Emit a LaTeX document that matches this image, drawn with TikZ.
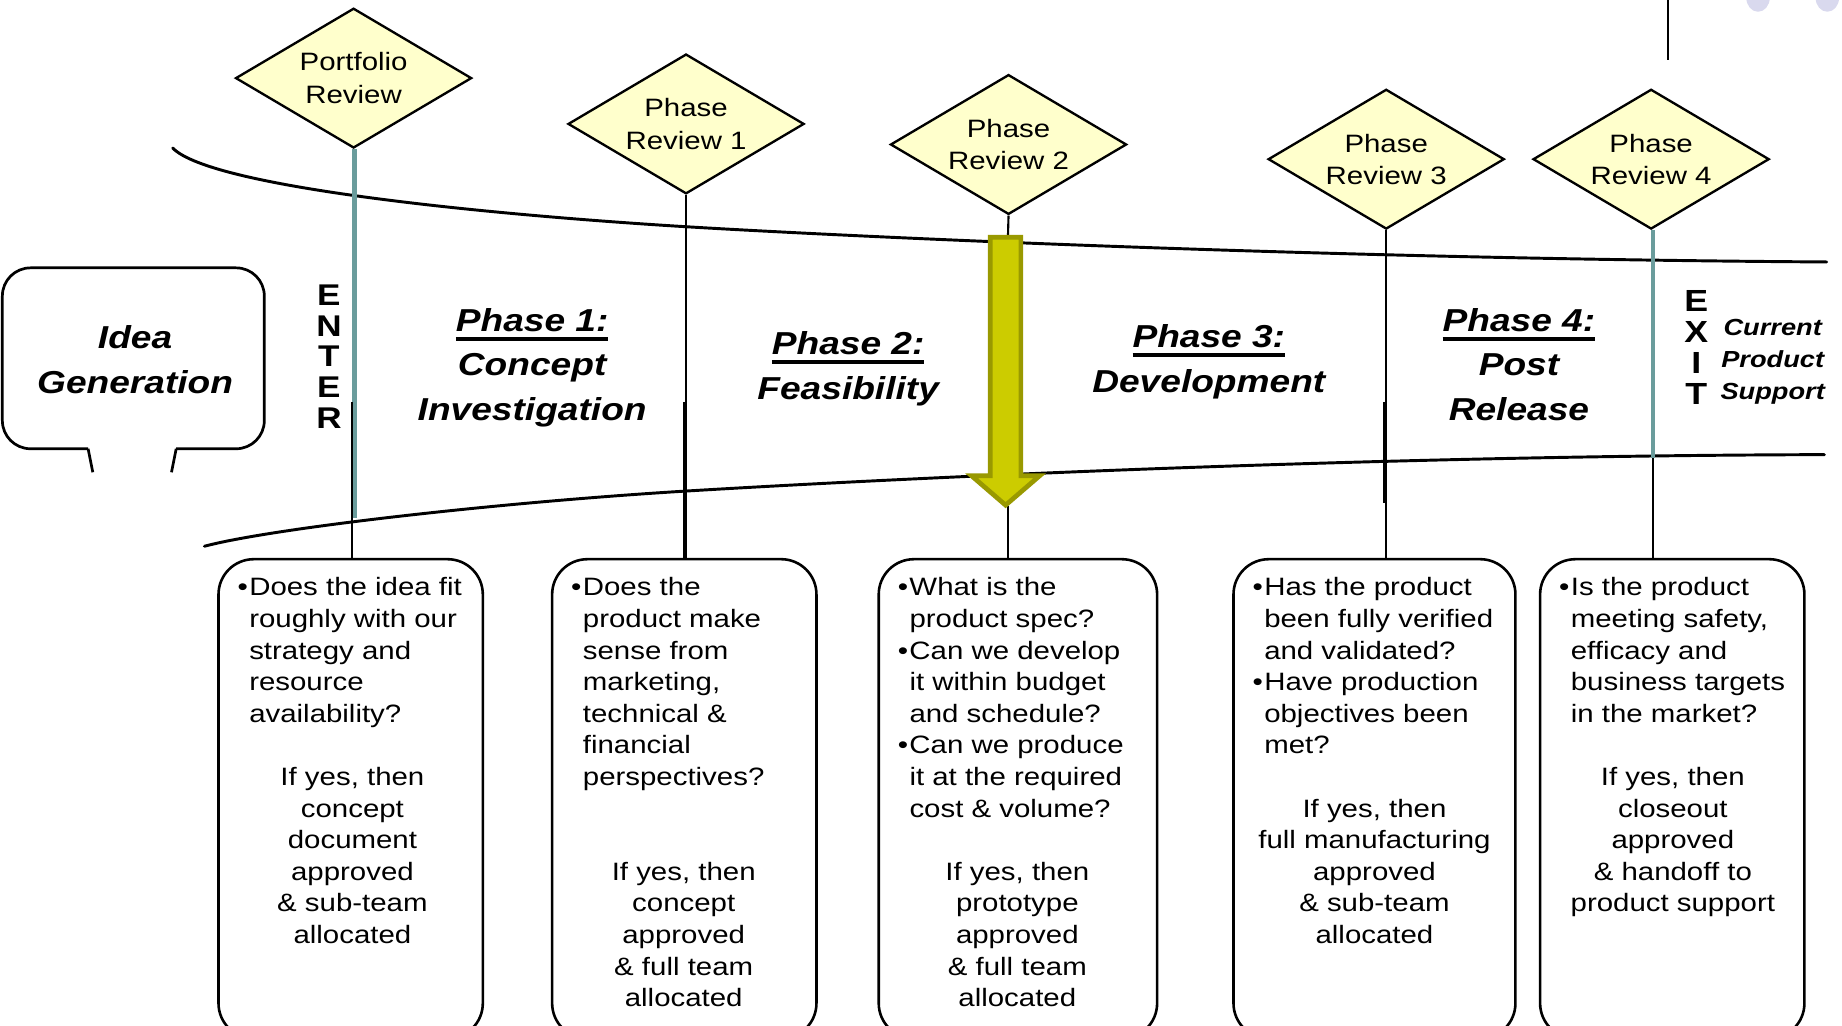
\documentclass[tikz,border=0pt]{standalone}
\usepackage{fontspec}
\setmainfont{Liberation Sans}[FakeStretch=1.17]
\usetikzlibrary{shapes.geometric}
\definecolor{dfill}{HTML}{FFFFCC}
\definecolor{tealc}{HTML}{6A9C9C}
\definecolor{arrfill}{HTML}{CCCC00}
\definecolor{arrdraw}{HTML}{999900}
\definecolor{lav}{HTML}{D9D9EE}
\newcommand\bul{\makebox[10pt][l]{•}}
\newcommand\ind{\hspace*{10pt}}
\newcommand\fst{\rule{0pt}{20pt}}
\newcommand\tst{\rule{0pt}{30pt}}
\newcommand\ulin[1]{\setbox0\hbox{#1}\rlap{\rule[-8pt]{\wd0}{3.3pt}}\box0}
\begin{document}
\begin{tikzpicture}[x=1pt,y=-1pt,
  diam/.style={diamond, aspect=1.68, draw=black, line width=2pt, fill=dfill, minimum width=201pt, minimum height=119pt, inner sep=0pt, align=center, font=\fontsize{21.4}{27.5}\selectfont},
  qbox/.style={draw=black, line width=2.2pt, rounded corners=30pt, minimum height=408pt},
  btxt/.style={anchor=north west, inner sep=0pt, align=left, font=\fontsize{21.4}{26.9}\selectfont},
  ytxt/.style={anchor=north, inner sep=0pt, align=center, font=\fontsize{21.4}{26.9}\selectfont},
  ttl/.style={anchor=north, inner sep=0pt, align=center, font=\fontsize{27}{38}\selectfont\bfseries\itshape},
  curve/.style={draw=black, line width=2.5pt, line cap=round},
  stem/.style={draw=black, line width=1.8pt},
  tealline/.style={draw=tealc, line width=4pt},
  arr/.style={draw=arrdraw, fill=arrfill, line width=4pt},
  bub/.style={draw=black, line width=2.3pt}]
\useasboundingbox (0,0) rectangle (1568,873);
\fill[white] (0,0) rectangle (1568,873);
% top decorations
\fill[lav] (1496.5,-2) ellipse [x radius=10pt, y radius=12pt];
\fill[lav] (1555.5,-2) ellipse [x radius=10pt, y radius=12pt];
\draw[line width=2pt] (1420,0) -- (1420,51);
% curves
\draw[curve] (147,126) .. controls (180,160) and (420,183) .. (584,193)
  .. controls (700,200) and (1100,220) .. (1555,223);
\draw[curve] (174,465) .. controls (230,450) and (420,428) .. (584,418)
  .. controls (750,408) and (1150,388) .. (1553,387);
% idea bubble
\draw[bub, rounded corners=24pt] (75,382) -- (2,382) -- (2,228) -- (225,228) -- (225,382) -- (150,382);
\draw[bub] (75,382) -- (79,402);
\draw[bub] (150,382) -- (146,402);
\node[ttl] (idea) at (115,266.7) {\tst Idea\\Generation};
% enter / exit
\node[anchor=north, inner sep=0pt, align=center, font=\fontsize{25.5}{26.2}\selectfont\bfseries] (enter) at (280,234.7) {\rule{0pt}{25pt}E\\N\\T\\E\\R};
\node[anchor=north, inner sep=0pt, align=center, font=\fontsize{26}{26.2}\selectfont\bfseries] (exit) at (1444,240.3) {\rule{0pt}{25pt}E\\X\\I\\T};
\node[anchor=north, inner sep=0pt, align=center, font=\fontsize{19.8}{27.3}\selectfont\bfseries\itshape] (cps) at (1509,265) {\fst Current\\Product\\Support};
% phase titles
\node[ttl] (p1) at (453,251.7) {\tst\ulin{Phase 1:}\\Concept\\Investigation};
\node[ttl] (p2) at (722,271.7) {\tst\ulin{Phase 2:}\\Feasibility};
\node[ttl] (p3) at (1029,265.7) {\tst\ulin{Phase 3:}\\Development};
\node[ttl] (p4) at (1293,251.7) {\tst\ulin{Phase 4:}\\Post\\Release};
% diamonds
\node[diam] (pr0) at (301,66.5) {Portfolio\\Review};
\node[diam] (pr1) at (584,105.5) {Phase\\Review 1};
\node[diam] (pr2) at (858.5,123) {Phase\\Review 2};
\node[diam] (pr3) at (1180,135.5) {Phase\\Review 3};
\node[diam] (pr4) at (1405.5,135.5) {Phase\\Review 4};
% boxes
\node[qbox, minimum width=225pt] (b1) at (298.5,680) {};
\node[qbox, minimum width=225pt] (b2) at (582.5,680) {};
\node[qbox, minimum width=237pt] (b3) at (866.5,680) {};
\node[qbox, minimum width=240pt] (b4) at (1170,680) {};
\node[qbox, minimum width=225pt] (b5) at (1423.5,680) {};
% box texts
\node[btxt] (q1) at (202,487) {\fst\bul Does the idea fit\\\ind roughly with our\\\ind strategy and\\\ind resource\\\ind availability?};
\node[ytxt] (y1) at (300,648.4) {\fst If yes, then\\concept\\document\\approved\\\& sub-team\\allocated};
\node[btxt] (q2) at (486,487) {\fst\bul Does the\\\ind product make\\\ind sense from\\\ind marketing,\\\ind technical \&\\\ind financial\\\ind perspectives?};
\node[ytxt] (y2) at (582,729.1) {\fst If yes, then\\concept\\approved\\\& full team\\allocated};
\node[btxt] (q3) at (764,487) {\fst\bul What is the\\\ind product spec?\\\bul Can we develop\\\ind it within budget\\\ind and schedule?\\\bul Can we produce\\\ind it at the required\\\ind cost \& volume?};
\node[ytxt] (y3) at (866,729.1) {\fst If yes, then\\prototype\\approved\\\& full team\\allocated};
\node[btxt] (q4) at (1066,487) {\fst\bul Has the product\\\ind been fully verified\\\ind and validated?\\\bul Have production\\\ind objectives been\\\ind met?};
\node[ytxt] (y4) at (1170,675.3) {\fst If yes, then\\full manufacturing\\approved\\\& sub-team\\allocated};
\node[btxt] (q5) at (1327,487) {\fst\bul Is the product\\\ind meeting safety,\\\ind efficacy and\\\ind business targets\\\ind in the market?};
\node[ytxt] (y5) at (1424,648.4) {\fst If yes, then\\closeout\\approved\\\& handoff to\\product support};
% stems
\coordinate (e0) at (302,441);
\coordinate (c1) at (300,342);
\coordinate (c2) at (582.5,342);
\coordinate (c4) at (1178,342);
\coordinate (c4e) at (1178,428);
\coordinate (e4) at (1407,390);
\coordinate (atop) at (858,202);
\coordinate (atip) at (858,431);
\draw[tealline] (e0 |- pr0.south) -- (e0);
\draw[stem] (c1) -- (c1 |- b1.north);
\draw[stem] (pr1.south) -- (pr1.south |- b2.north);
\draw[stem] (c2) -- (c2 |- b2.north);
\draw[stem] (pr2.south) -- (atop);
\draw[stem] (atip) -- (atip |- b3.north);
\draw[stem] (pr3.south) -- (pr3.south |- b4.north);
\draw[stem] (c4) -- (c4e);
\draw[tealline] (e4 |- pr4.south) -- (e4);
\draw[stem] (e4) -- (e4 |- b5.north);
% arrow
\draw[arr] (843,202) -- (869,202) -- (869,405) -- (885,405) -- (856,430) -- (827,405) -- (843,405) -- cycle;
\end{tikzpicture}
\end{document}
